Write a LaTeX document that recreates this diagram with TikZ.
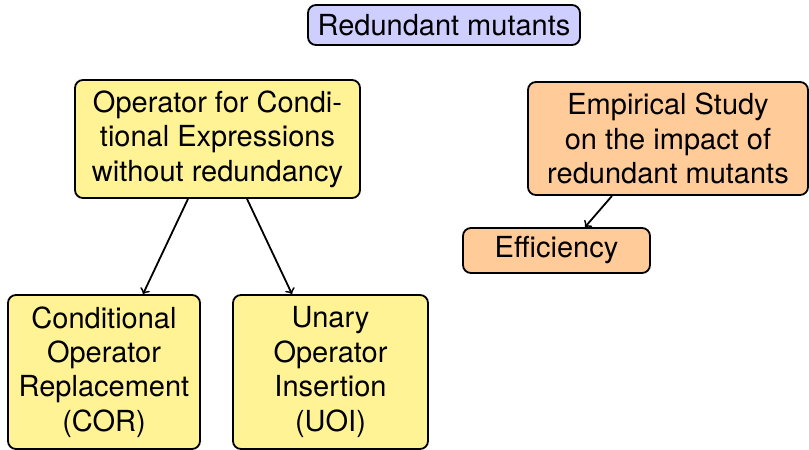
\documentclass[tikz,border=0pt]{standalone}
\usepackage{fontspec}
\setmainfont{TeX Gyre Heros}
\definecolor{titleblue}{RGB}{206,206,255}
\definecolor{opyellow}{RGB}{255,243,150}
\definecolor{studyorange}{RGB}{255,204,153}
\begin{document}
\begin{tikzpicture}[x=0.5pt,y=-0.5pt,
		box/.style={draw=black, line width=0.9pt, rounded corners=4pt, align=center, inner sep=0pt, font=\fontsize{14.5}{17.2}\selectfont},
		titlebox/.style={box, fill=titleblue},
		opbox/.style={box, fill=opyellow},
		studybox/.style={box, fill=studyorange},
		link/.style={->, line width=0.9pt}]
		\useasboundingbox (0,0) rectangle (809,450);
		\node [titlebox, minimum width=136pt, minimum height=20pt] (title) at (444,25) {Redundant mutants};
		\node [opbox, minimum width=142.5pt, minimum height=59pt] (oce) at (217.5,139) {Operator for Condi-\\tional Expressions\\without redundancy};
		\node [opbox, minimum width=96pt, minimum height=77pt] (cor) at (104,372) {Conditional\\Operator\\Replacement\\(COR)};
		\node [opbox, minimum width=97.5pt, minimum height=77pt] (uoi) at (330.5,372) {Unary\\Operator\\Insertion\\(UOI)};
		\node [studybox, minimum width=140pt, minimum height=56.5pt] (study) at (668,138.5) {Empirical Study\\on the impact of\\redundant mutants};
		\node [studybox, minimum width=93.5pt, minimum height=22.5pt] (eff) at (556.5,250.5) {Efficiency};
		\draw [link] ([xshift=-14.75pt]oce.south) -- ([xshift=19.5pt]cor.north);
		\draw [link] ([xshift=14.75pt]oce.south) -- ([xshift=-19.25pt]uoi.north);
		\draw [link] ([xshift=-28pt]study.south) -- ([xshift=14.25pt]eff.north);
	\end{tikzpicture}
\end{document}
